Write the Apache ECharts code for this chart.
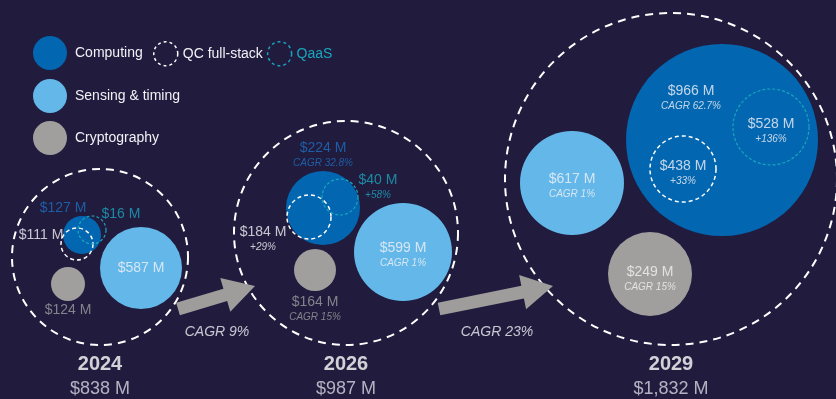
<!DOCTYPE html>
<html>
<head>
<meta charset="utf-8">
<script src="https://cdn.jsdelivr.net/npm/echarts@6/dist/echarts.min.js"></script>
<style>
html,body{margin:0;padding:0;background:#211b3e;}
#c{width:836px;height:399px;}
</style>
</head>
<body>
<div id="c"></div>
<script>
// ---------- DATA ----------
const years = ['2024', '2026', '2029'];
const totals = [838, 987, 1832];
const computing = [127, 224, 966];
const qcFullStack = [111, 184, 438];
const qaas = [16, 40, 528];
const sensing = [587, 599, 617];
const cryptography = [124, 164, 249];
const computingNote = ['', 'CAGR 32.8%', 'CAGR 62.7%'];
const qcNote = ['', '+29%', '+33%'];
const qaasNote = ['', '+58%', '+136%'];
const sensingNote = ['', 'CAGR 1%', 'CAGR 1%'];
const cryptoNote = ['', 'CAGR 15%', 'CAGR 15%'];
const periodCagr = ['CAGR 9%', 'CAGR 23%'];

// ---------- LAYOUT (positions / sizes, infographic placement) ----------
const yearCircleLayout = [[100, 257, 88], [346, 233, 112], [671, 179, 166]];
const bubbleLayout = {
  computing: [[82, 235, 19], [323, 208, 37], [722, 140, 96]],
  qc: [[77, 244, 16], [309, 217, 22], [683, 169, 33]],
  qaas: [[92, 230, 14], [340, 197, 18], [771, 127, 38]],
  sensing: [[141, 268, 41], [403, 252, 49], [572, 183, 52]],
  crypto: [[68, 284, 17], [315, 270, 21], [650, 274, 42]]
};
const labelLayout = {
  computing: [[63, 208], [323, 148], [691, 91]],
  qc: [[41, 235], [263, 232], [683, 166]],
  qaas: [[121, 214], [378, 180], [771, 124]],
  sensing: [[141, 268], [403, 248], [572, 179]],
  crypto: [[68, 310], [315, 302], [650, 272]]
};
const yearLabelY = 364;
const arrowLayout = [[178, 309, 255, 286], [439, 309, 553, 286]];
const arrowLabelLayout = [[217, 332], [497, 332]];

// ---------- STYLE ----------
const C = {
  bg: '#211b3e', comp: '#0266b0', sens: '#63b8e9', cryp: '#a09f9d',
  teal: '#1aa6bd', compText: '#1d6fc0', grayText: '#9e9d9f', white: '#f2f1f6', arrow: '#9e9d9b'
};
const FONT = "'Liberation Sans', Arial, sans-serif";
const money = v => '$' + v.toLocaleString('en-US') + ' M';

function bubbleData(values, layout) {
  return values.map((v, i) => ({ value: [layout[i][0], layout[i][1], v], symbolSize: layout[i][2] * 2 }));
}

function labelItems(values, notes, layout, colors) {
  return values.map((v, i) => {
    const hasNote = !!notes[i];
    const col = colors[i];
    return {
      value: [layout[i][0], layout[i][1] + (hasNote ? 6.5 : 0)],
      label: {
        formatter: hasNote ? '{v|' + money(v) + '}\n{s|' + notes[i] + '}' : '{v|' + money(v) + '}',
        rich: {
          v: { fontFamily: FONT, fontSize: 14, lineHeight: 17, color: col, align: 'center' },
          s: { fontFamily: FONT, fontSize: 10, fontStyle: 'italic', lineHeight: 13, color: col, align: 'center' }
        }
      }
    };
  });
}

const labels = [].concat(
  labelItems(computing, computingNote, labelLayout.computing, [C.compText, C.compText, C.white]),
  labelItems(qcFullStack, qcNote, labelLayout.qc, [C.white, C.white, C.white]),
  labelItems(qaas, qaasNote, labelLayout.qaas, [C.teal, C.teal, C.white]),
  labelItems(sensing, sensingNote, labelLayout.sensing, [C.white, C.white, C.white]),
  labelItems(cryptography, cryptoNote, labelLayout.crypto, [C.grayText, C.grayText, C.white])
);

const yearLabels = years.map((y, i) => ({
  value: [yearCircleLayout[i][0], yearLabelY + 12],
  label: {
    formatter: '{y|' + y + '}\n{t|' + money(totals[i]) + '}',
    rich: {
      y: { fontFamily: FONT, fontSize: 20, fontWeight: 'bold', lineHeight: 26, color: '#ffffff', align: 'center' },
      t: { fontFamily: FONT, fontSize: 18, lineHeight: 24, color: '#d9d7e2', align: 'center' }
    }
  }
}));

const arrowLabels = periodCagr.map((t, i) => ({
  value: arrowLabelLayout[i],
  label: {
    formatter: t,
    fontFamily: FONT, fontSize: 14, fontStyle: 'italic', color: C.white
  }
}));

const chart = echarts.init(document.getElementById('c'));
chart.setOption({
  backgroundColor: C.bg,
  animation: false,
  grid: { left: 0, right: 0, top: 0, bottom: 0 },
  xAxis: { type: 'value', min: 0, max: 836, show: false },
  yAxis: { type: 'value', min: 0, max: 399, inverse: true, show: false },
  legend: [
    {
      left: 33, top: 36, padding: 0, itemWidth: 34, itemHeight: 34, selectedMode: false,
      textStyle: { fontFamily: FONT, fontSize: 14, color: C.white, padding: [0, 0, 0, 3] },
      data: [{ name: 'Computing', icon: 'circle', itemStyle: { color: C.comp, opacity: 1 } }]
    },
    {
      left: 153, top: 41, padding: 0, itemWidth: 24, itemHeight: 24, itemGap: 4, selectedMode: false,
      textStyle: { fontFamily: FONT, fontSize: 14, color: C.white },
      data: [
        { name: 'QC full-stack', icon: 'circle', itemStyle: { color: 'transparent', borderColor: '#ffffff', borderWidth: 1.5, borderType: [3, 3], opacity: 1 } },
        { name: 'QaaS', icon: 'circle', itemStyle: { color: 'transparent', borderColor: C.teal, borderWidth: 1.5, borderType: [3, 3], opacity: 1 }, textStyle: { color: C.teal } }
      ]
    },
    {
      left: 33, top: 79, padding: 0, orient: 'vertical', itemWidth: 34, itemHeight: 34, itemGap: 8, selectedMode: false,
      textStyle: { fontFamily: FONT, fontSize: 14, color: C.white, padding: [0, 0, 0, 3] },
      data: [
        { name: 'Sensing & timing', icon: 'circle', itemStyle: { color: C.sens, opacity: 1 } },
        { name: 'Cryptography', icon: 'circle', itemStyle: { color: C.cryp, opacity: 1 } }
      ]
    }
  ],
  series: [
    {
      name: 'Year total', type: 'scatter', symbol: 'circle', z: 1, silent: true,
      itemStyle: { color: 'transparent', borderColor: '#ffffff', borderWidth: 2, borderType: [8, 6], opacity: 1 },
      data: totals.map((v, i) => ({ value: [yearCircleLayout[i][0], yearCircleLayout[i][1], v], symbolSize: yearCircleLayout[i][2] * 2 }))
    },
    {
      name: 'Period growth', type: 'custom', z: 2, silent: true,
      encode: { x: [0, 2], y: [1, 3] },
      renderItem: function (params, api) {
        const a = api.coord([api.value(0), api.value(1)]);
        const b = api.coord([api.value(2), api.value(3)]);
        const dx = b[0] - a[0], dy = b[1] - a[1];
        const L = Math.sqrt(dx * dx + dy * dy);
        const ux = dx / L, uy = dy / L, px = -uy, py = ux;
        const w = 6.5, hw = 17.5, hl = 31;
        const bx = b[0] - ux * hl, by = b[1] - uy * hl;
        const pts = [
          [a[0] + px * w, a[1] + py * w], [bx + px * w, by + py * w], [bx + px * hw, by + py * hw],
          [b[0], b[1]],
          [bx - px * hw, by - py * hw], [bx - px * w, by - py * w], [a[0] - px * w, a[1] - py * w]
        ];
        return { type: 'polygon', shape: { points: pts }, style: { fill: C.arrow } };
      },
      data: arrowLayout
    },
    {
      name: 'Computing', type: 'scatter', symbol: 'circle', z: 3, silent: true,
      itemStyle: { color: C.comp, opacity: 1 }, data: bubbleData(computing, bubbleLayout.computing)
    },
    {
      name: 'Sensing & timing', type: 'scatter', symbol: 'circle', z: 3, silent: true,
      itemStyle: { color: C.sens, opacity: 1 }, data: bubbleData(sensing, bubbleLayout.sensing)
    },
    {
      name: 'Cryptography', type: 'scatter', symbol: 'circle', z: 3, silent: true,
      itemStyle: { color: C.cryp, opacity: 1 }, data: bubbleData(cryptography, bubbleLayout.crypto)
    },
    {
      name: 'QC full-stack', type: 'scatter', symbol: 'circle', z: 4, silent: true,
      itemStyle: { color: 'transparent', borderColor: '#ffffff', borderWidth: 1.5, borderType: [4, 3], opacity: 1 },
      data: bubbleData(qcFullStack, bubbleLayout.qc)
    },
    {
      name: 'QaaS', type: 'scatter', symbol: 'circle', z: 4, silent: true,
      itemStyle: { color: 'transparent', borderColor: C.teal, borderWidth: 1.2, borderType: [3, 2], opacity: 1 },
      data: bubbleData(qaas, bubbleLayout.qaas)
    },
    {
      name: 'Labels', type: 'scatter', symbolSize: 0, z: 5, silent: true,
      label: { show: true, position: 'inside' },
      data: labels.concat(yearLabels, arrowLabels)
    }
  ]
});
</script>
</body>
</html>
